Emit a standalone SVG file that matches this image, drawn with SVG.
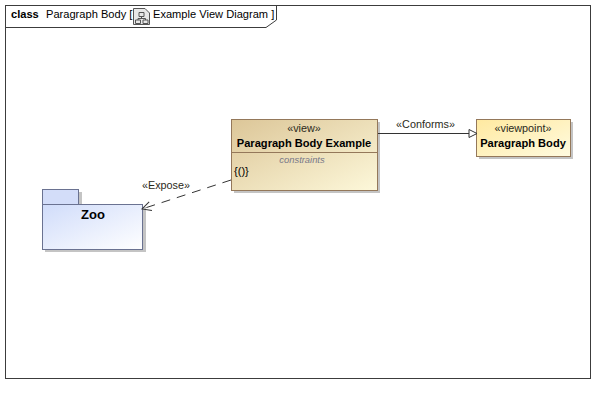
<svg xmlns="http://www.w3.org/2000/svg" width="615" height="403" viewBox="0 0 615 403">
<style>
text{font-family:"Liberation Sans",Arial,sans-serif;font-size:11.1px;fill:#000;text-anchor:middle}
.b{font-weight:bold}
.st{fill:#2a2a20;font-size:10.8px}
.sh{fill:#c4c4c4}
.conn{fill:none;stroke:#333;stroke-width:1}
</style>
<defs>
<linearGradient id="gv" x1="0" y1="0" x2="1" y2="1"><stop offset="0" stop-color="#dcc698"/><stop offset="1" stop-color="#fdf8da"/></linearGradient>
<linearGradient id="gp" x1="0" y1="0" x2="1" y2="1"><stop offset="0" stop-color="#ffe9a0"/><stop offset="1" stop-color="#fffbe0"/></linearGradient>
<linearGradient id="gz" x1="0" y1="0" x2="1" y2="1"><stop offset="0" stop-color="#d0dcfa"/><stop offset="1" stop-color="#ffffff"/></linearGradient>
<marker id="tri" markerWidth="10" markerHeight="10" refX="9" refY="5" orient="auto" markerUnits="userSpaceOnUse"><path d="M1 1L9 5L1 9Z" fill="#fff" stroke="#333"/></marker>
<marker id="open" markerWidth="12" markerHeight="12" refX="11" refY="6" orient="auto" markerUnits="userSpaceOnUse"><path d="M2 1.500L11 6L2 10.500" fill="none" stroke="#333"/></marker>
</defs>
<rect width="615" height="403" fill="#fff"/>
<g id="frame">
<rect x="5.500" y="5.500" width="585" height="373" fill="#fff" stroke="#3c3c3c"/>
<path d="M5.500 27.500H266L276.500 20V5.500" fill="none" stroke="#3c3c3c"/>
<text x="11" y="18" class="b" style="text-anchor:start">class</text>
<text x="46" y="18" style="text-anchor:start">Paragraph Body [</text>
<g fill="none" stroke="#555">
<path d="M133.500 8.500H145L149.500 13V24.500H133.500Z" fill="#e8e8e8"/>
<path d="M139 12.500h5v4h-5zM135.500 20h5v3.500h-5zM143 20h5v3.500h-5zM141.500 16.500V18.500M138 20V18.500H145.500V20"/>
</g>
<text x="153" y="18" style="text-anchor:start">Example View Diagram ]</text>
</g>
<g id="view">
<rect x="234" y="122" width="146" height="71" class="sh"/>
<rect x="231.500" y="119.500" width="146" height="71" fill="url(#gv)" stroke="#94785a"/>
<path d="M231.500 152.500H377.500" stroke="#94785a"/>
<text x="304" y="132" class="st">«view»</text>
<text x="304" y="147" class="b">Paragraph Body Example</text>
<text x="302" y="163" style="font-size:9.4px;font-style:italic;fill:#778">constraints</text>
<text x="234" y="175" style="text-anchor:start">{()}</text>
</g>
<g id="viewpoint">
<rect x="479" y="122" width="94" height="37" class="sh"/>
<rect x="476.500" y="119.500" width="94" height="37" fill="url(#gp)" stroke="#94785a"/>
<text x="523" y="132" class="st">«viewpoint»</text>
<text x="523" y="147" class="b">Paragraph Body</text>
</g>
<g id="zoo">
<path d="M45 192H82V207H146V252H45Z" class="sh"/>
<rect x="42.500" y="189.500" width="36" height="15" fill="#d3ddf9" stroke="#6a7291"/>
<rect x="42.500" y="204.500" width="100" height="45" fill="url(#gz)" stroke="#6a7291"/>
<text x="93" y="219" class="b" style="font-size:13px">Zoo</text>
</g>
<g id="connectors">
<path class="conn" d="M378 133.500H477" marker-end="url(#tri)"/>
<path class="conn" d="M231 180L142 209" stroke-dasharray="9 7" marker-end="url(#open)"/>
<text x="425.500" y="128" class="st">«Conforms»</text>
<text x="166" y="189" class="st">«Expose»</text>
</g>
</svg>
